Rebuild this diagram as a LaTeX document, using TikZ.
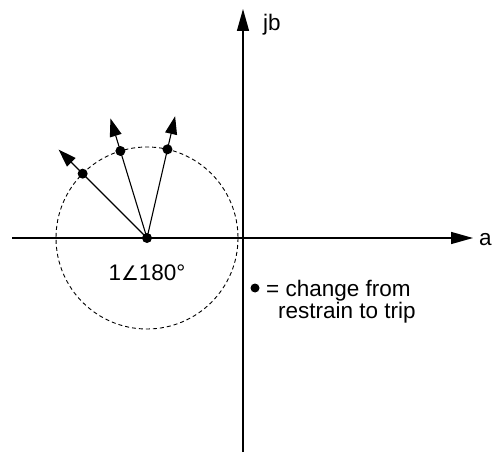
\documentclass[tikz,border=0pt]{standalone}
\usepackage{fontspec}
\setmainfont{Liberation Sans}
\newfontfamily\dejavu{DejaVu Sans}
\usetikzlibrary{arrows.meta,calc}
\begin{document}
\begin{tikzpicture}[x=1pt,y=-1pt,
  axis/.style={line width=1.4pt,-{Triangle[length=22pt,width=12pt]}},
  vec/.style={line width=1.1pt,-{Triangle[length=18pt,width=12pt]}},
  dot/.style={circle,fill=black,inner sep=0pt,minimum size=10pt},
  lbl/.style={font=\fontsize{22.5}{26}\selectfont,inner sep=0pt}]
\useasboundingbox (0,0) rectangle (503,465);
\coordinate (xl) at (12,238);
\coordinate (xr) at (473,238);
\coordinate (yb) at (243,452);
\coordinate (yt) at (243,9);
\draw[axis] (xl) -- (xr);
\draw[axis] (yb) -- (yt);
\node[lbl,anchor=west] (a) at (479,240) {a};
\node[lbl,anchor=base west] (jb) at (263,31) {jb};
\coordinate (c) at (147,238);
\draw[line width=0.9pt,dash pattern=on 4pt off 3pt] (c) circle[radius=91];
\coordinate (t1) at ($(c)+(-135:125)$);
\coordinate (t2) at ($(c)+(-107:125)$);
\coordinate (t3) at ($(c)+(-77:125)$);
\draw[vec] (c) -- (t1);
\draw[vec] (c) -- (t2);
\draw[vec] (c) -- (t3);
\node[dot] (cd) at (c) {};
\node[dot] (d1) at ($(c)+(-135:91)$) {};
\node[dot] (d2) at ($(c)+(-107:91)$) {};
\node[dot] (d3) at ($(c)+(-77:91)$) {};
\node[lbl,anchor=base] (mag) at (147,280) {1{\dejavu\fontsize{20}{24}\selectfont ∠}180°};
\node[dot,minimum size=9pt] (key) at (255,288) {};
\node[lbl,anchor=base west] (k1) at (266,296) {= change from};
\node[lbl,anchor=base west] (k2) at (278,318) {restrain to trip};
\end{tikzpicture}
\end{document}
